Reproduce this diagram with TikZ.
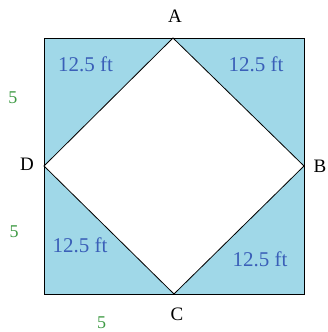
\documentclass[tikz,border=0pt]{standalone}
\usepackage{fontspec}
\setmainfont{Liberation Serif}
\definecolor{fillblue}{HTML}{A0D8E8}
\definecolor{txtblue}{HTML}{3A5FB8}
\definecolor{txtgreen}{HTML}{3E9A44}
\begin{document}
\begin{tikzpicture}[x=1pt,y=-1pt,
  vlabel/.style={font=\fontsize{19}{19}\selectfont, inner sep=0pt},
  area/.style={text=txtblue, font=\fontsize{21}{21}\selectfont, inner sep=0pt},
  side/.style={text=txtgreen, font=\fontsize{18}{18}\selectfont, inner sep=0pt}]
\useasboundingbox (0,0) rectangle (327,332);
\coordinate (TL) at (44,38);
\coordinate (TR) at (304,38);
\coordinate (BR) at (304,294);
\coordinate (BL) at (44,294);
\coordinate (pA) at (173,38);
\coordinate (pB) at (304,166);
\coordinate (pC) at (174,294);
\coordinate (pD) at (44,166);
\fill[fillblue] (TL) rectangle (BR);
\fill[white] (pA) -- (pB) -- (pC) -- (pD) -- cycle;
\draw[line width=0.8pt] (TL) rectangle (BR);
\draw[line width=0.8pt] (pA) -- (pB) -- (pC) -- (pD) -- cycle;
\node[vlabel] (A) at (175,16.5) {A};
\node[vlabel] (B) at (320,166) {B};
\node[vlabel] (C) at (177,314.5) {C};
\node[vlabel] (D) at (27,164) {D};
\node[area] (a1) at (85.5,64.5) {12.5 ft};
\node[area] (a2) at (256,64.5) {12.5 ft};
\node[area] (a3) at (80,245.5) {12.5 ft};
\node[area] (a4) at (260,259) {12.5 ft};
\node[side] (s1) at (13,97.5) {5};
\node[side] (s2) at (14,231.5) {5};
\node[side] (s3) at (101.5,322.5) {5};
\end{tikzpicture}
\end{document}
